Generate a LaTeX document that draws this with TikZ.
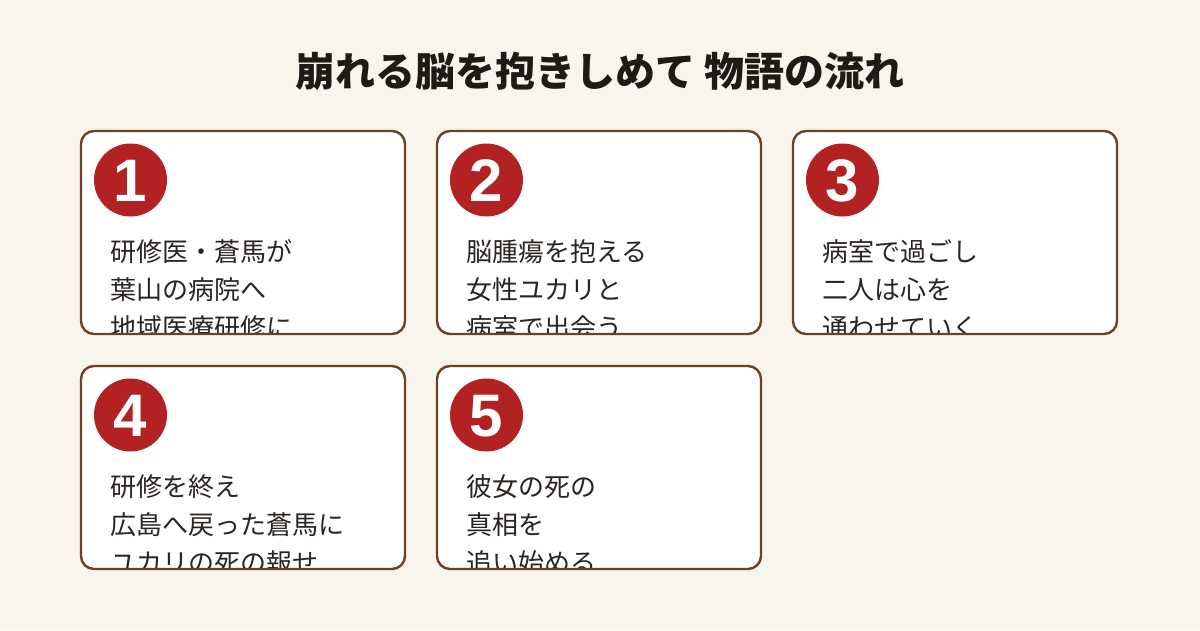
\documentclass[tikz,border=0pt]{standalone}
\usepackage{fontspec}
\setmainfont{Noto Sans CJK JP}
\newfontfamily\numfont{Liberation Sans}
\definecolor{bg}{HTML}{FAF5EA}
\definecolor{brd}{HTML}{6B4226}
\definecolor{badge}{HTML}{B22222}
\definecolor{ink}{HTML}{2A2522}
\definecolor{ttl}{HTML}{1E1A16}
\tikzset{
  titlestyle/.style={anchor=base, inner sep=0pt, text=ttl, font=\bfseries\fontsize{40pt}{46pt}\selectfont},
  card/.style={anchor=north west, fill=white, draw=none, rounded corners=13pt, minimum width=324pt, minimum height=203pt, inner sep=0pt, outer sep=0pt},
  cardborder/.style={draw=brd, line width=2.4pt, rounded corners=13pt},
  numbadge/.style={circle, fill=badge, minimum size=73pt, inner sep=0pt, text=white},
  numtext/.style={anchor=base, inner sep=0pt, text=white, font=\numfont\bfseries\fontsize{60pt}{62pt}\selectfont},
  bodyline/.style={anchor=base west, inner sep=0pt, text=ink, font=\fontsize{26pt}{30pt}\selectfont}
}
\begin{document}
\begin{tikzpicture}[x=1pt,y=-1pt]
\useasboundingbox[fill=bg] (0,0) rectangle (1200,630);
\node[titlestyle] (title) at (600,86) {崩れる脳を抱きしめて 物語の流れ};
\foreach \i/\x/\y/\la/\lb/\lc in {
  1/81/131/研修医・蒼馬が/葉山の病院へ/地域医療研修に,
  2/437/131/脳腫瘍を抱える/女性ユカリと/病室で出会う,
  3/793/131/病室で過ごし/二人は心を/通わせていく,
  4/81/366/研修を終え/広島へ戻った蒼馬に/ユカリの死の報せ,
  5/437/366/彼女の死の/真相を/追い始める}{
  \node[card] (b\i) at (\x,\y) {};
  \begin{scope}
    \clip[rounded corners=13pt] (b\i.north west) rectangle (b\i.south east);
    \node[bodyline] (t\i a) at (\x+29.5,\y+130.5) {\la};
    \node[bodyline] (t\i b) at (\x+29.5,\y+168.5) {\lb};
    \node[bodyline] (t\i c) at (\x+29.5,\y+206.5) {\lc};
  \end{scope}
  \draw[cardborder] (b\i.north west) rectangle (b\i.south east);
  \node[numbadge] (n\i) at (\x+49.5,\y+49) {};
  \node[numtext] (d\i) at (\x+49.5,\y+70) {\i};
}
\end{tikzpicture}
\end{document}
